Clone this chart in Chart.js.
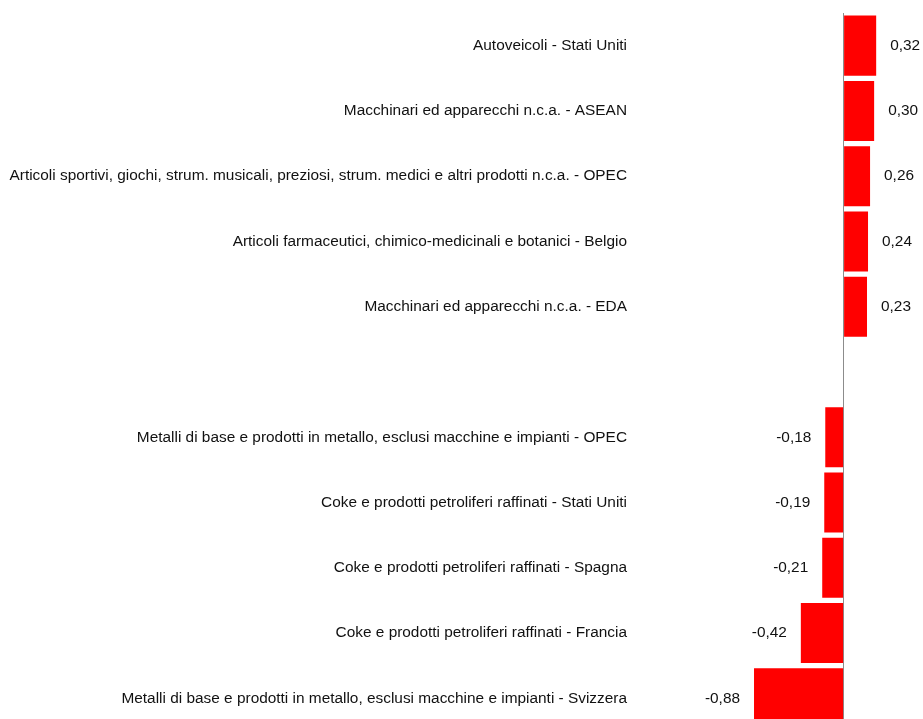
<!DOCTYPE html>
<html>
<head>
<meta charset="utf-8">
<script src="https://cdn.jsdelivr.net/npm/chart.js@4.4.0/dist/chart.umd.min.js"></script>
<style>
  html, body { margin: 0; padding: 0; background: #fff; overflow: hidden; }
  #wrap { position: relative; width: 923px; height: 731px; }
</style>
</head>
<body>
<div id="wrap"><canvas id="c"></canvas></div>
<script>
const categories = [
  "Autoveicoli - Stati Uniti",
  "Macchinari ed apparecchi n.c.a. - ASEAN",
  "Articoli sportivi, giochi, strum. musicali, preziosi, strum. medici e altri prodotti n.c.a. - OPEC",
  "Articoli farmaceutici, chimico-medicinali e botanici - Belgio",
  "Macchinari ed apparecchi n.c.a. - EDA",
  "",
  "Metalli di base e prodotti in metallo, esclusi macchine e impianti - OPEC",
  "Coke e prodotti petroliferi raffinati - Stati Uniti",
  "Coke e prodotti petroliferi raffinati - Spagna",
  "Coke e prodotti petroliferi raffinati - Francia",
  "Metalli di base e prodotti in metallo, esclusi macchine e impianti - Svizzera"
];
const values = [0.32, 0.30, 0.26, 0.24, 0.23, null, -0.18, -0.19, -0.21, -0.42, -0.88];

const FONT = "'Liberation Sans', Arial, sans-serif";

const valueLabels = {
  id: 'valueLabels',
  afterDatasetsDraw(chart) {
    const ctx = chart.ctx;
    const meta = chart.getDatasetMeta(0);
    ctx.save();
    ctx.font = '15.4px ' + FONT;
    ctx.fillStyle = '#111';
    ctx.textBaseline = 'middle';
    meta.data.forEach((bar, i) => {
      const v = values[i];
      if (v === null || v === undefined) return;
      const txt = v.toFixed(2).replace('.', ',');
      if (v >= 0) {
        ctx.textAlign = 'left';
        ctx.fillText(txt, bar.x + 14, bar.y);
      } else {
        ctx.textAlign = 'right';
        ctx.fillText(txt, bar.x - 14, bar.y);
      }
    });
    ctx.restore();
  }
};

new Chart(document.getElementById('c'), {
  type: 'bar',
  data: {
    labels: categories,
    datasets: [{
      data: values,
      backgroundColor: '#ff0000',
      borderWidth: 0,
      categoryPercentage: 1.0,
      barPercentage: 0.92
    }]
  },
  options: {
    indexAxis: 'y',
    responsive: true,
    maintainAspectRatio: false,
    animation: false,
    layout: { padding: { top: 13, right: 0, bottom: 0, left: 0 } },
    plugins: { legend: { display: false }, tooltip: { enabled: false } },
    scales: {
      x: {
        min: -2.0,
        max: 0.78,
        afterBuildTicks(scale) { scale.ticks = [{ value: 0 }]; },
        afterFit(scale) { scale.height = 0; scale.paddingLeft = 0; scale.paddingRight = 0; },
        ticks: { display: false },
        grid: {
          drawTicks: false,
          color: '#8c8c8c',
          lineWidth: 1
        },
        border: { display: false }
      },
      y: {
        afterFit(scale) {
          scale.width = 640;
          scale.paddingTop = 0;
          scale.paddingBottom = 0;
        },
        grid: { display: false, drawTicks: false },
        border: { display: false },
        ticks: {
          padding: 13,
          color: '#111',
          font: { family: FONT, size: 15.4 },
          autoSkip: false
        }
      }
    }
  },
  plugins: [valueLabels]
});
</script>
</body>
</html>
